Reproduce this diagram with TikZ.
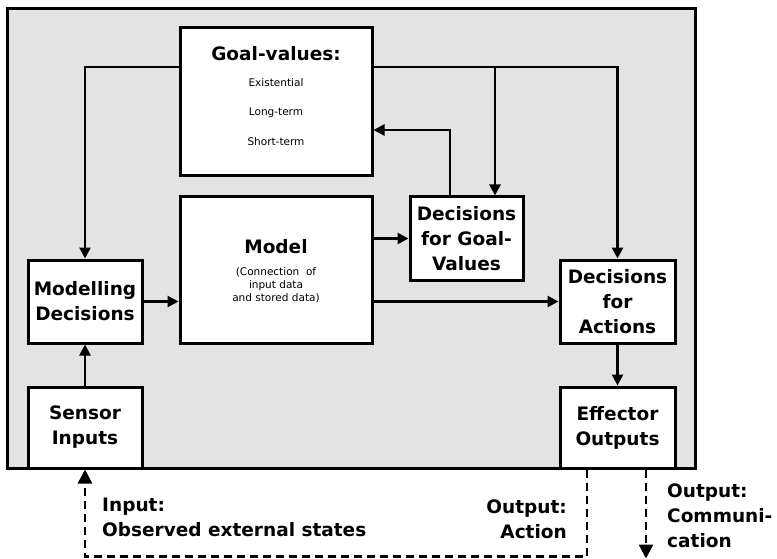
\documentclass[tikz,border=0pt]{standalone}
\usepackage{fontspec}
\setmainfont{DejaVu Sans}
\usetikzlibrary{arrows.meta}
\newcommand{\bigtxt}{\fontsize{18.5}{25}\selectfont\bfseries}
\newcommand{\smalltxt}{\fontsize{10.5}{13}\selectfont}

\begin{document}
\begin{tikzpicture}[x=1pt,y=-1pt,
    box/.style={draw,line width=3pt,fill=white,inner sep=0pt,align=center},
    arr/.style={line width=2.6pt,-{Triangle[length=11pt,width=11pt]}},
    dsh/.style={line width=2.6pt,dash pattern=on 8pt off 5pt,-{Triangle[length=14pt,width=14pt]}},
    lbl/.style={font=\bigtxt,inner sep=0pt}]
  \useasboundingbox (0,0) rectangle (777,559);
  % outer frame
  \draw[line width=3pt,fill=black!11] (7,9) rectangle (695,468);
  \coordinate (bus) at (0,67);
  % boxes
  \node[box,minimum width=192,minimum height=148] (goal) at (276,102) {};
  \node[lbl] (goalt) at (276,54) {Goal-values:};
  \node[font=\smalltxt] (ex) at (276,83) {Existential};
  \node[font=\smalltxt] (lt) at (276,113) {Long-term};
  \node[font=\smalltxt] (st) at (276,142) {Short-term};
  \node[box,minimum width=192,minimum height=146] (model) at (276,270) {};
  \node[lbl] (modelt) at (276,247) {Model};
  \node[font=\smalltxt,align=center,inner sep=0pt] (modeld) at (276,285)
    {(Connection\ \ of\\input data\\and stored data)};
  \node[box,minimum width=113,minimum height=83,font=\bigtxt] (dgv) at (466.5,238.5)
    {Decisions\\for Goal-\\Values};
  \node[box,minimum width=114,minimum height=83,font=\bigtxt] (mod) at (85,301.5)
    {Modelling\\Decisions};
  \node[box,minimum width=115,minimum height=83,font=\bigtxt] (dfa) at (617.5,301.5)
    {Decisions\\for\\Actions};
  \node[box,minimum width=114,minimum height=81,font=\bigtxt] (sens) at (85,427.5)
    {Sensor\\Inputs};
  \node[box,minimum width=115,minimum height=81,font=\bigtxt] (eff) at (617.5,427.5)
    {Effector\\Outputs};
  % connections
  \draw[arr] (goal.west |- bus) -| (mod.north);
  \draw[arr] (goal.east |- bus) -| ([xshift=28.5]dgv.north);
  \draw[arr] (goal.east |- bus) -| (dfa.north);
  \draw[arr] ([xshift=-16.5]dgv.north) |- (goal.east |- 0,130);
  \draw[arr] (model.east |- dgv.west) -- (dgv.west);
  \draw[arr] (model.east |- dfa.west) -- (dfa.west);
  \draw[arr] (mod.east) -- (mod.east -| model.west);
  \draw[arr] (sens.north) -- (mod.south);
  \draw[arr] (dfa.south) -- (eff.north);
  % outside world
  \draw[dsh] ([xshift=-30.5]eff.south) -- ++(0,87) -| (sens.south);
  \draw[dsh] ([xshift=28.5]eff.south) -- ++(0,89);
  \node[lbl,anchor=west,align=left] (inp) at (102,517) {Input:\\Observed external states};
  \node[lbl,anchor=east,align=right] (outa) at (567,519) {Output:\\Action};
  \node[lbl,anchor=west,align=left] (outc) at (667,516) {Output:\\Communi-\\cation};
\end{tikzpicture}
\end{document}
